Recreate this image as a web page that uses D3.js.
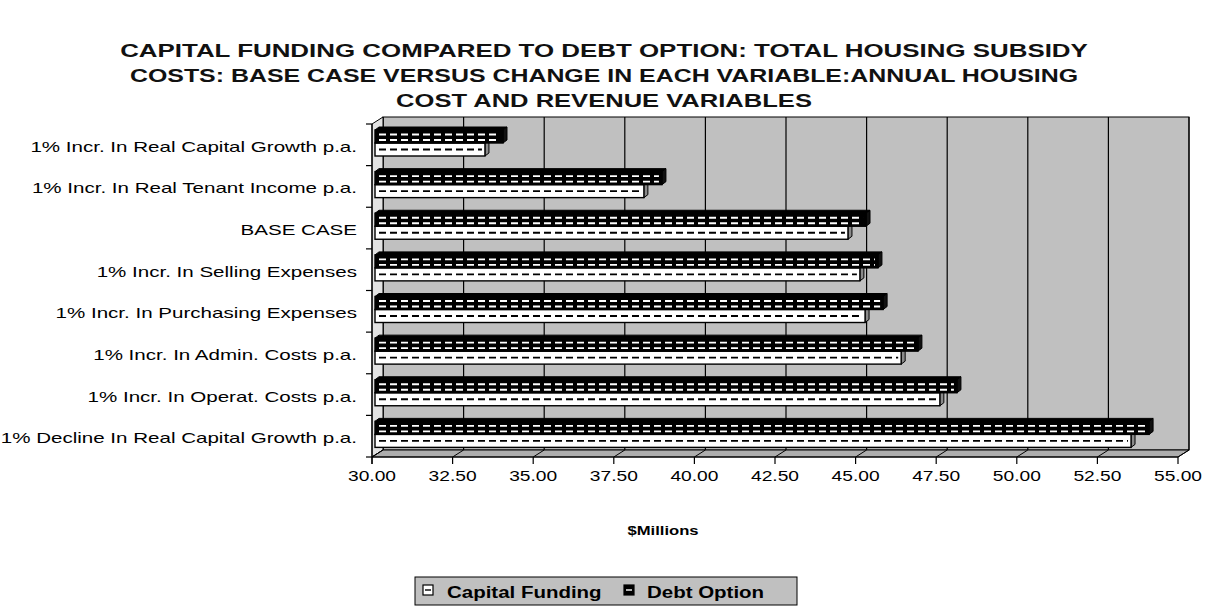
<!DOCTYPE html>
<html>
<head>
<meta charset="utf-8">
<script src="https://cdn.jsdelivr.net/npm/d3@7"></script>
<style>
  html, body { margin: 0; padding: 0; background: #fff; }
  svg { display: block; font-family: "Liberation Sans", Arial, sans-serif; }
</style>
</head>
<body>
<svg id="chart" width="1211" height="612"></svg>
<script>
// Sensitivity cases, listed top to bottom
const categories = [
  "1% Incr. In Real Capital Growth p.a.",
  "1% Incr. In Real Tenant Income p.a.",
  "BASE CASE",
  "1% Incr. In Selling Expenses",
  "1% Incr. In Purchasing Expenses",
  "1% Incr. In Admin. Costs p.a.",
  "1% Incr. In Operat. Costs p.a.",
  "1% Decline In Real Capital Growth p.a."
];
// Total housing subsidy costs, $ millions
const capitalFunding = [33.41, 38.34, 44.67, 45.04, 45.20, 46.32, 47.52, 53.45];
const debtOption     = [33.97, 38.90, 45.23, 45.60, 45.76, 46.84, 48.05, 54.01];
const xTickValues = [30, 32.5, 35, 37.5, 40, 42.5, 45, 47.5, 50, 52.5, 55];
const titleLines = [
  "CAPITAL FUNDING COMPARED TO DEBT OPTION: TOTAL HOUSING SUBSIDY",
  "COSTS: BASE CASE VERSUS CHANGE IN EACH VARIABLE:ANNUAL HOUSING",
  "COST AND REVENUE VARIABLES"
];
const seriesNames = ["Capital Funding", "Debt Option"];
const axisTitle = "$Millions";

const svg = d3.select("#chart");
const STRETCH = 1.28;           // wide lettering of the chart text
const LABEL_STRETCH = 1.37;     // category labels are a little wider still
const DX = 11, DY = -7;         // depth of the 3-D box
const BDX = 4, BDY = -3;        // depth of each bar
const BOFF = 3;                 // bars sit slightly behind the front plane

const x = d3.scaleLinear().domain([30, 55]).range([372, 1178]);
const y = d3.scaleBand().domain(categories).range([124, 457]);
const x0 = x.range()[0], x1 = x.range()[1];
const yTop = y.range()[0], yBot = y.range()[1];

function stretchedText(g, str, px, py, anchor, size, weight, k) {
  return g.append("text")
    .attr("transform", `translate(${px},${py}) scale(${k},1)`)
    .attr("text-anchor", anchor)
    .attr("font-size", size)
    .attr("font-weight", weight)
    .attr("fill", "#000")
    .text(str);
}

// Title, each line spread to its width
const titleWidths = [968, 949, 416];
const titleBase = [57, 82, 107];
titleLines.forEach((line, i) => {
  const t = svg.append("text")
    .attr("font-size", 18).attr("font-weight", "bold")
    .attr("fill", "#111")
    .attr("text-anchor", "middle").text(line);
  const w = t.node().getComputedTextLength();
  t.attr("transform", `translate(604,${titleBase[i]}) scale(${titleWidths[i] / w},1)`);
});

// Back wall
const plot = svg.append("g");
plot.append("rect")
  .attr("x", x0 + DX).attr("y", yTop + DY)
  .attr("width", x1 - x0).attr("height", yBot - yTop)
  .attr("fill", "#c0c0c0").attr("stroke", "#000").attr("stroke-width", 1);

// Grid lines on the back wall
plot.selectAll("line.grid").data(xTickValues).join("line")
  .attr("class", "grid")
  .attr("x1", d => x(d) + DX).attr("x2", d => x(d) + DX)
  .attr("y1", yTop + DY).attr("y2", yBot + DY)
  .attr("stroke", "#000").attr("stroke-width", 1.2);

// Left side wall
plot.append("polygon")
  .attr("points", [[x0, yTop], [x0 + DX, yTop + DY], [x0 + DX, yBot + DY], [x0, yBot]].join(" "))
  .attr("fill", "#e2e2e2").attr("stroke", "#000").attr("stroke-width", 1);

// Floor
plot.append("polygon")
  .attr("points", [[x0, yBot], [x1, yBot], [x1 + DX, yBot + DY], [x0 + DX, yBot + DY]].join(" "))
  .attr("fill", "#adadad").attr("stroke", "#000").attr("stroke-width", 1);
plot.selectAll("line.floor").data(xTickValues).join("line")
  .attr("class", "floor")
  .attr("x1", d => x(d)).attr("y1", yBot)
  .attr("x2", d => x(d) + DX).attr("y2", yBot + DY)
  .attr("stroke", "#000").attr("stroke-width", 1);

// Value axis ticks and labels
plot.selectAll("line.xtick").data(xTickValues).join("line")
  .attr("class", "xtick")
  .attr("x1", d => x(d)).attr("x2", d => x(d))
  .attr("y1", yBot).attr("y2", yBot + 7)
  .attr("stroke", "#000").attr("stroke-width", 1.2);
plot.append("line")
  .attr("x1", x0).attr("x2", x1).attr("y1", yBot).attr("y2", yBot)
  .attr("stroke", "#000").attr("stroke-width", 1.2);
xTickValues.forEach(v => {
  stretchedText(plot, d3.format(".2f")(v), x(v), yBot + 24, "middle", 15, "normal", STRETCH);
});

// Category axis, ticks and labels
plot.append("line")
  .attr("x1", x0).attr("x2", x0).attr("y1", yTop).attr("y2", yBot + 7)
  .attr("stroke", "#000").attr("stroke-width", 1.2);
const boundaries = categories.map(c => y(c)).concat([yBot]);
plot.selectAll("line.ytick").data(boundaries).join("line")
  .attr("class", "ytick")
  .attr("x1", x0 - 6).attr("x2", x0)
  .attr("y1", d => d).attr("y2", d => d)
  .attr("stroke", "#000").attr("stroke-width", 1.2);
categories.forEach(c => {
  stretchedText(plot, c, 357, y(c) + y.bandwidth() / 2 + 7, "end", 15, "normal", LABEL_STRETCH);
});

// Bars: each is a front face, a top face and a right side face
const bars = plot.append("g");
const FRONT_H = 13;

function drawBar(g, v, yFront, dark, showTop) {
  const xs = x(30) + BOFF, xe = x(v) + BOFF;
  const yb = yFront + FRONT_H;
  const fill = dark ? "#000" : "#fff";
  const dashCol = dark ? "#fff" : "#000";
  if (showTop) {
    g.append("polygon")
      .attr("points", [[xs, yFront], [xe, yFront], [xe + BDX, yFront + BDY], [xs + BDX, yFront + BDY]].join(" "))
      .attr("fill", fill).attr("stroke", "#000").attr("stroke-width", 1);
  }
  g.append("polygon")
    .attr("points", [[xe, yFront], [xe + BDX, yFront + BDY], [xe + BDX, yb + BDY], [xe, yb]].join(" "))
    .attr("fill", dark ? "#111" : "#8a8a8a").attr("stroke", "#000").attr("stroke-width", 1);
  g.append("rect")
    .attr("x", xs).attr("y", yFront).attr("width", xe - xs).attr("height", FRONT_H)
    .attr("fill", fill).attr("stroke", "#000").attr("stroke-width", 1.4);
  const rows = dark ? [yFront + 4.5, yFront + 10] : [yFront + 6.5];
  rows.forEach(ry => {
    g.append("line")
      .attr("x1", xs + 4).attr("x2", xe - 3).attr("y1", ry).attr("y2", ry)
      .attr("stroke", dashCol).attr("stroke-width", 1.8)
      .attr("stroke-dasharray", "7,4");
  });
}

categories.forEach((c, i) => {
  const top = y(c) + 6;               // front top edge of the Debt Option bar
  const g = bars.append("g");
  drawBar(g, capitalFunding[i], top + FRONT_H, false, false);
  drawBar(g, debtOption[i], top, true, true);
});

// Axis title
stretchedText(svg, axisTitle, 663, 535, "middle", 13, "bold", STRETCH);

// Legend
const lg = svg.append("g");
lg.append("rect")
  .attr("x", 415).attr("y", 577).attr("width", 382).attr("height", 28)
  .attr("fill", "#c0c0c0").attr("stroke", "#000").attr("stroke-width", 1);
const legendItems = [
  { name: seriesNames[0], dark: false, ix: 423, tx: 447 },
  { name: seriesNames[1], dark: true,  ix: 624, tx: 647 }
];
legendItems.forEach(it => {
  lg.append("rect")
    .attr("x", it.ix).attr("y", 585).attr("width", 10).attr("height", 10)
    .attr("fill", it.dark ? "#000" : "#fff").attr("stroke", "#000").attr("stroke-width", 1.2);
  lg.append("line")
    .attr("x1", it.ix + 2).attr("x2", it.ix + 8).attr("y1", 590).attr("y2", 590)
    .attr("stroke", it.dark ? "#fff" : "#000").attr("stroke-width", 1.4);
  stretchedText(lg, it.name, it.tx, 598, "start", 16, "bold", STRETCH);
});
</script>
</body>
</html>
